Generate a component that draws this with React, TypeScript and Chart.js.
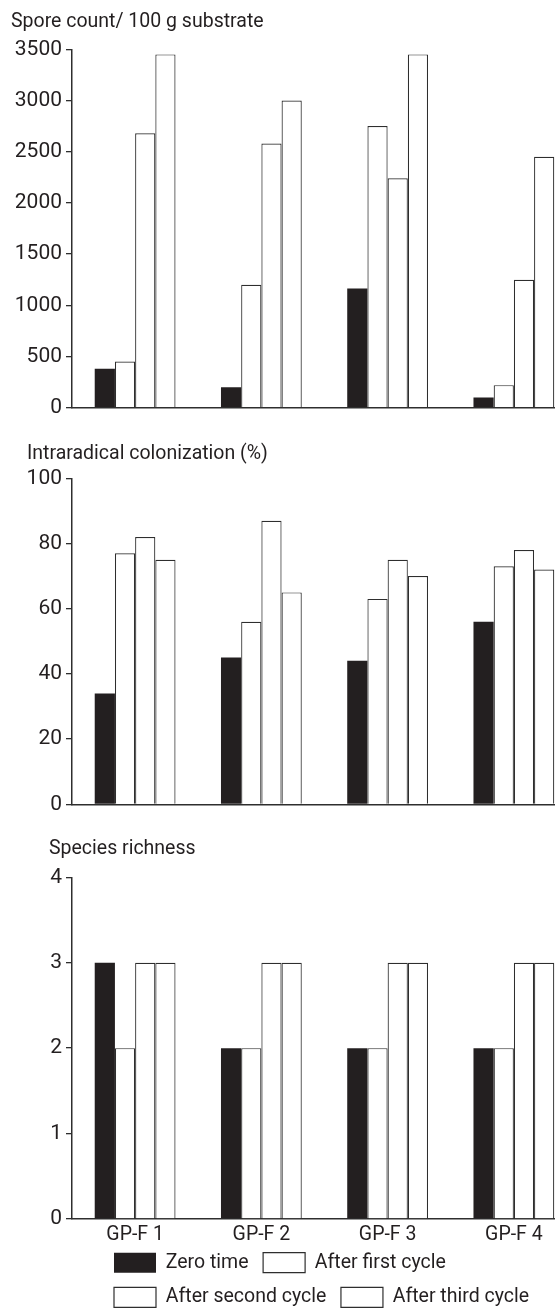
import React, { useEffect, useRef } from "react";
import { Chart, registerables } from "chart.js";

Chart.register(...registerables);

// ---- data ----
const CATEGORIES = ["GP-F 1", "GP-F 2", "GP-F 3", "GP-F 4"];
const SERIES_NAMES = ["Zero time", "After first cycle", "After second cycle", "After third cycle"];

const SPORE_ZERO = [380, 200, 1165, 100];
const SPORE_FIRST = [450, 1200, 2750, 220];
const SPORE_SECOND = [2680, 2580, 2240, 1250];
const SPORE_THIRD = [3450, 3000, 3450, 2450];

const COLON_ZERO = [34, 45, 44, 56];
const COLON_FIRST = [77, 56, 63, 73];
const COLON_SECOND = [82, 87, 75, 78];
const COLON_THIRD = [75, 65, 70, 72];

const RICH_ZERO = [3, 2, 2, 2];
const RICH_FIRST = [2, 2, 2, 2];
const RICH_SECOND = [3, 3, 3, 3];
const RICH_THIRD = [3, 3, 3, 3];

const PANEL_TITLES = ["Spore count/ 100 g substrate", "Intraradical colonization (%)", "Species richness"];
const Y_MAX = [3500, 100, 4];
const Y_STEP = [500, 20, 1];

// ---- styling ----
const INK = "#231f20";
const LINE = "#2e2e2e";
const FONT = "Roboto";
const CANVAS_W = 577;
const AXIS_W = 72;

type PanelSpec = {
  top: number;
  height: number;
  titleX: number;
  titlePadTop: number;
  titlePadBottom: number;
  padBottom: number;
  showX: boolean;
  showLegend: boolean;
  legendX?: number;
  legendDy?: number;
};

const PANELS: PanelSpec[] = [
  { top: 0, height: 428, titleX: 11, titlePadTop: 10, titlePadBottom: 15.9, padBottom: 20.3, showX: false, showLegend: false },
  { top: 428, height: 396, titleX: 27, titlePadTop: 14.8, titlePadBottom: 12.1, padBottom: 19.7, showX: false, showLegend: false },
  { top: 824, height: 520, titleX: 49, titlePadTop: 13.3, titlePadBottom: 16.6, padBottom: 14.4, showX: true, showLegend: true, legendX: 99.4, legendDy: -12.3 },
];

const SERIES = [
  [SPORE_ZERO, SPORE_FIRST, SPORE_SECOND, SPORE_THIRD],
  [COLON_ZERO, COLON_FIRST, COLON_SECOND, COLON_THIRD],
  [RICH_ZERO, RICH_FIRST, RICH_SECOND, RICH_THIRD],
];

const offsetPlugin = {
  id: "panelOffsets",
  afterLayout(chart: any, _args: any, opts: any) {
    if (chart.titleBlock && opts && opts.titleX != null) {
      chart.titleBlock.left = opts.titleX;
    }
    if (chart.legend && opts && opts.legendX != null && chart.legend.options.display) {
      chart.legend.left = opts.legendX;
      chart.legend.top += opts.legendDy || 0;
    }
  },
};

function makeConfig(idx: number): any {
  const spec = PANELS[idx];
  const datasets = SERIES_NAMES.map((name, i) => ({
    label: name,
    data: SERIES[idx][i],
    backgroundColor: i === 0 ? INK : "#ffffff",
    borderColor: i === 0 ? INK : LINE,
    borderWidth: i === 0 ? 0 : 1.2,
    categoryPercentage: 0.64,
    barPercentage: 1.0,
  }));
  return {
    type: "bar",
    data: { labels: CATEGORIES, datasets },
    plugins: [offsetPlugin],
    options: {
      responsive: false,
      animation: false,
      devicePixelRatio: 1,
      layout: { padding: { top: 0, left: 0, right: 0, bottom: spec.padBottom } },
      plugins: {
        tooltip: { enabled: false },
        panelOffsets: { titleX: spec.titleX, legendX: spec.legendX, legendDy: spec.legendDy },
        title: {
          display: true,
          text: PANEL_TITLES[idx],
          align: "start",
          color: INK,
          font: { family: FONT, size: 19.5, weight: "normal", lineHeight: 1.2 },
          padding: { top: spec.titlePadTop, bottom: spec.titlePadBottom },
        },
        legend: {
          display: spec.showLegend,
          position: "bottom",
          align: "start",
          fullSize: false,
          labels: {
            boxWidth: 42,
            boxHeight: 20,
            padding: 14.6,
            color: INK,
            font: { family: FONT, size: 19.5 },
          },
        },
      },
      scales: {
        x: {
          type: "category",
          offset: true,
          grid: { display: false, drawTicks: false },
          border: { display: true, color: LINE, width: 1.5 },
          ticks: {
            display: spec.showX,
            color: INK,
            padding: 4,
            font: { family: FONT, size: 19.5, lineHeight: 1.2 },
            maxRotation: 0,
          },
        },
        y: {
          min: 0,
          max: Y_MAX[idx],
          afterFit: (scale: any) => {
            scale.width = AXIS_W;
          },
          grid: { display: true, drawOnChartArea: false, drawTicks: true, tickLength: 6, color: LINE, lineWidth: 1.3 },
          border: { display: true, color: LINE, width: 1.5 },
          ticks: {
            stepSize: Y_STEP[idx],
            color: INK,
            padding: 4,
            font: { family: FONT, size: 21 },
            callback: (v: any) => String(v),
          },
        },
      },
    },
  };
}

function Panel({ idx }: { idx: number }) {
  const ref = useRef<HTMLCanvasElement | null>(null);
  useEffect(() => {
    if (!ref.current) return;
    const chart = new Chart(ref.current, makeConfig(idx));
    return () => chart.destroy();
  }, [idx]);
  const spec = PANELS[idx];
  return (
    <canvas
      ref={ref}
      width={CANVAS_W}
      height={spec.height}
      style={{ position: "absolute", left: 0, top: spec.top, display: "block" }}
    />
  );
}

export default function App() {
  return (
    <div
      style={{
        position: "absolute",
        left: 0,
        top: 0,
        width: 555,
        height: 1313,
        overflow: "hidden",
        background: "#ffffff",
      }}
    >
      {PANELS.map((_, i) => (
        <Panel key={i} idx={i} />
      ))}
    </div>
  );
}
